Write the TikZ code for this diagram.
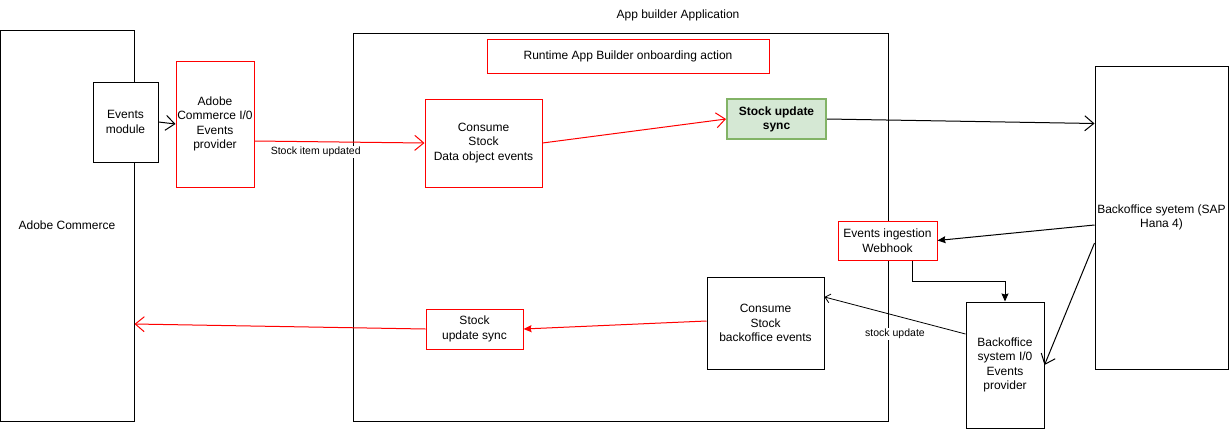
\documentclass[tikz,border=0pt]{standalone}
\usepackage{fontspec}
\setmainfont{Liberation Sans}
\usetikzlibrary{arrows.meta}
\definecolor{drawred}{HTML}{FF0000}
\definecolor{syncfill}{HTML}{D5E8D4}
\definecolor{syncline}{HTML}{82B366}
\begin{document}
\begin{tikzpicture}[x=1pt,y=-1pt,line width=1pt,
  box/.style={draw=black,fill=white,align=center,inner sep=0pt,font=\fontsize{12}{14.5}\selectfont},
  redbox/.style={box,draw=drawred},
  lbl/.style={fill=white,text=black,inner sep=1pt,font=\fontsize{10.5}{12}\selectfont},
  open/.style={-{Straight Barb[length=9pt,width=15pt]}},
  openfine/.style={-{Straight Barb[length=5pt,width=9pt]},line width=0.8pt},
  solid tip/.style={-{Stealth[length=8pt,width=7pt,inset=1pt]}}]
\useasboundingbox (0,0) rectangle (1229,429);
\node[box,minimum width=134,minimum height=391] (commerce) at (67,225.5) {Adobe Commerce};
\node[box,minimum width=65,minimum height=80] (evmodule) at (125.5,122) {Events\\module};
\node[redbox,minimum width=78,minimum height=126] (acprovider) at (215,124) {Adobe\\Commerce I/0\\Events\\provider};
\node[box,fill=none,minimum width=535,minimum height=388] (appbuilder) at (620.5,227) {};
\node[font=\fontsize{12}{14}\selectfont] (apptitle) at (678,15) {App builder Application};
\node[redbox,minimum width=282,minimum height=34] (runtime) at (628,56) {Runtime App Builder onboarding action};
\node[redbox,minimum width=117,minimum height=88] (consumedo) at (483.5,143) {Consume\\Stock\\Data object events};
\node[box,draw=syncline,fill=syncfill,line width=2pt,font=\fontsize{12}{14}\selectfont\bfseries,minimum width=99,minimum height=40] (syncout) at (776.5,119) {Stock update\\sync};
\node[box,minimum width=133,minimum height=303] (backoffice) at (1161.5,217.5) {Backoffice syetem (SAP\\Hana 4)};
\node[redbox,minimum width=99,minimum height=39] (webhook) at (887.5,240.5) {Events ingestion\\Webhook};
\node[box,minimum width=78,minimum height=126] (boprovider) at (1005,365) {Backoffice\\system I/0\\Events\\provider};
\node[box,minimum width=117,minimum height=92] (consumebo) at (765.5,323) {Consume\\Stock\\backoffice events};
\node[redbox,minimum width=97,minimum height=40] (syncin) at (474.5,329) {Stock\\update sync};

\draw[open] (evmodule.east) -- (acprovider.west);
\draw[open,drawred] ([yshift=-17pt]acprovider.east) -- node[lbl,pos=0.36,below=4pt] (itemlbl) {Stock item updated} (consumedo.west);
\draw[open,drawred] (consumedo.east) -- (syncout.west);
\draw[open] (syncout.east) -- ([yshift=94pt]backoffice.west);
\draw[solid tip] ([yshift=-7.5pt]backoffice.west) -- (webhook.east);
\draw[solid tip] ([xshift=24.5pt]webhook.south) -- ++(0,21) -| (boprovider.north);
\draw[open] ([yshift=-25.5pt]backoffice.west) -- (boprovider.east);
\draw[openfine] ([yshift=31pt]boprovider.west) -- node[lbl,pos=0.5,below=12pt] (updlbl) {stock update} ([yshift=26pt]consumebo.east);
\draw[solid tip,drawred] ([yshift=2pt]consumebo.west) -- (syncin.east);
\draw[open,drawred] (syncin.west) -- ([yshift=-98.5pt]commerce.east);
\end{tikzpicture}
\end{document}
